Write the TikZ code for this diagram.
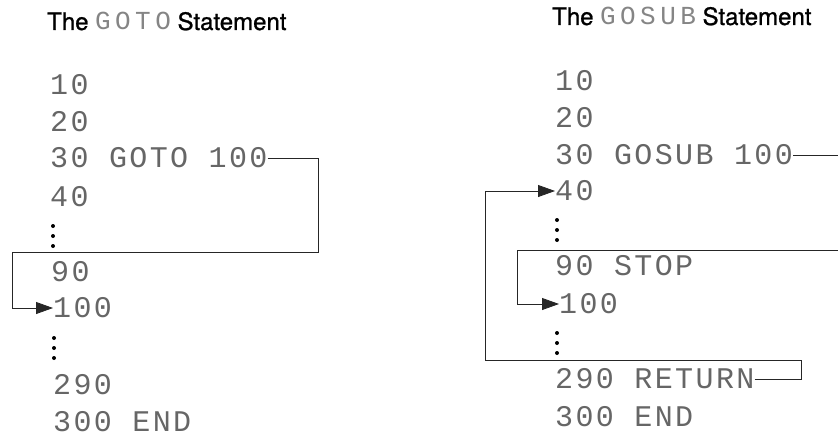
\documentclass[tikz,border=0pt]{standalone}
\usepackage{fontspec}
\usetikzlibrary{arrows.meta}
\newfontfamily\dotfont[LetterSpace=8]{Liberation Mono}
\newfontfamily\titledotfont[LetterSpace=17]{Liberation Mono}
\newfontfamily\titlefont[FakeBold=1]{TeX Gyre Heros}
\definecolor{dotgray}{gray}{0.40}
\definecolor{linegray}{gray}{0.15}
\tikzset{
  codeline/.style={anchor=west,inner sep=0pt,font=\dotfont\fontsize{30}{30}\selectfont,text=dotgray},
  titletext/.style={anchor=base west,inner sep=0pt,font=\titlefont\fontsize{24}{24}\selectfont},
  jump/.style={draw=linegray,line width=0.8pt},
  jumparrow/.style={jump,-{Triangle[length=17pt,width=12pt]}},
}
\newcommand{\titlecode}[1]{{\titledotfont\fontsize{26}{26}\selectfont\color{dotgray!80}#1}}
\begin{document}
\begin{tikzpicture}[x=1pt,y=-1pt]
\useasboundingbox (0,0) rectangle (838,436);
\clip (0,0) rectangle (838,436);
% ---------------- left panel ----------------
\node[titletext] (ltitle) at (47,30) {The \titlecode{GOTO} Statement};
\node[codeline] (l10) at (50,85) {10};
\node[codeline] (l20) at (50,122) {20};
\node[codeline] (l30) at (50,158) {30 GOTO 100};
\node[codeline] (l40) at (50,197) {40};
\fill (53,226) circle[radius=2pt] (53,236) circle[radius=2pt] (53,246) circle[radius=2pt];
\node[codeline] (l90) at (51,272) {90};
\node[codeline] (l100) at (53,308) {100};
\fill (54,338) circle[radius=2pt] (54,348) circle[radius=2pt] (54,358) circle[radius=2pt];
\node[codeline] (l290) at (53,385) {290};
\node[codeline] (l300) at (53,422) {300 END};
\coordinate (la) at (318,252);
\coordinate (lb) at (12,252);
\draw[jumparrow] (l30.east) -| (la) -- (lb) |- (l100.west);
% ---------------- right panel ----------------
\node[titletext] (rtitle) at (552,25) {The \titlecode{GOSUB} Statement};
\node[codeline] (r10) at (555,81) {10};
\node[codeline] (r20) at (555,118) {20};
\node[codeline] (r30) at (555,155) {30 GOSUB 100};
\node[codeline] (r40) at (555,191) {40};
\fill (557,220) circle[radius=2pt] (557,230) circle[radius=2pt] (557,240) circle[radius=2pt];
\node[codeline] (r90) at (555,266) {90 STOP};
\node[codeline] (r100) at (559,304) {100};
\fill (557,333) circle[radius=2pt] (557,343) circle[radius=2pt] (557,353) circle[radius=2pt];
\node[codeline] (r290) at (555,379) {290 RETURN};
\node[codeline] (r300) at (555,417) {300 END};
\coordinate (ra) at (846,250);
\coordinate (rb) at (517,250);
\draw[jumparrow] (r30.east) -| (ra) -- (rb) |- (r100.west);
\coordinate (rc) at (801,360);
\coordinate (rd) at (485,360);
\draw[jumparrow] (r290.east) -| (rc) -- (rd) |- (r40.west);
\end{tikzpicture}
\end{document}
